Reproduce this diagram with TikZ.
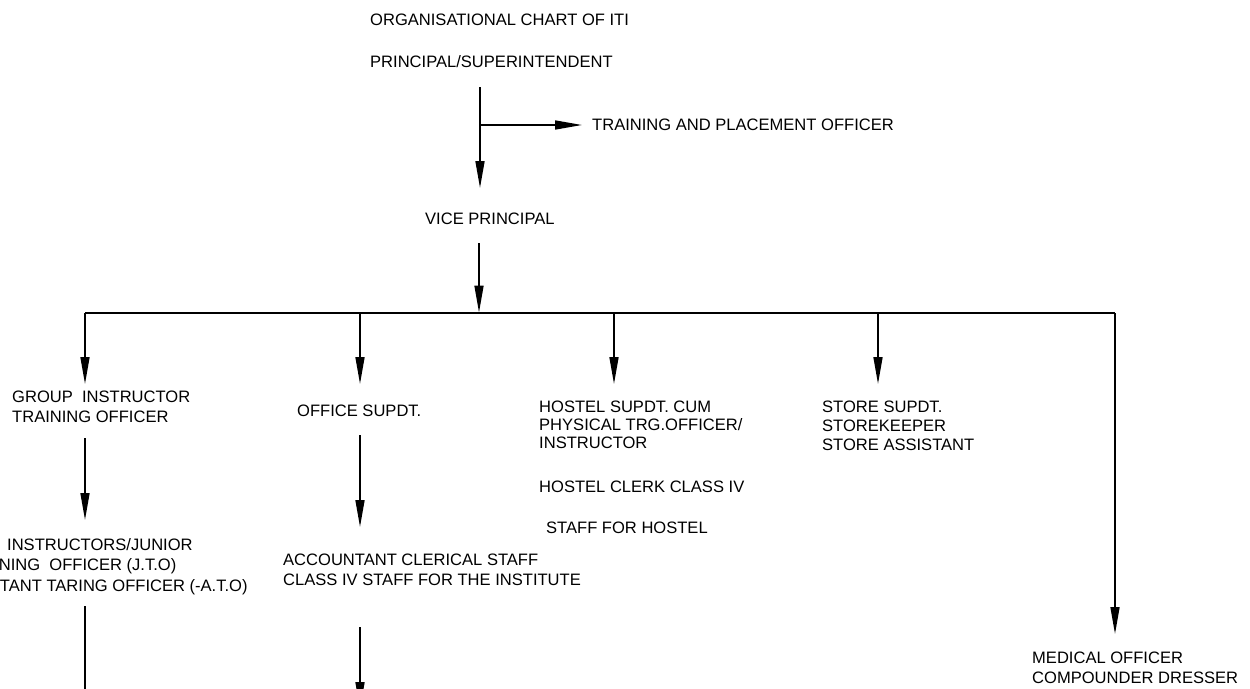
\documentclass[tikz,border=0pt]{standalone}
\usepackage{fontspec}
\setmainfont{Liberation Sans}
\usetikzlibrary{arrows.meta}
\begin{document}
\begin{tikzpicture}[x=1pt,y=-1pt,
  lbl/.style={inner sep=0pt, anchor=north west, align=left, font=\fontsize{16.55}{20}\selectfont},
  lbltight/.style={lbl, font=\fontsize{16.55}{18}\selectfont},
  conn/.style={line width=1.6pt, line join=miter},
  arr/.style={conn, -{Triangle[length=27pt,width=9pt]}}]
\useasboundingbox (0,0) rectangle (1250,688);
\clip (0,0) rectangle (1250,688);

% texts
\node[lbl] (title) at (370,14) {ORGANISATIONAL CHART OF ITI};
\node[lbl] (pr) at (370,55) {PRINCIPAL/SUPERINTENDENT};
\node[lbl] (tpo) at (592,119) {TRAINING AND PLACEMENT OFFICER};
\node[lbl] (vp) at (425,213) {VICE PRINCIPAL};
\node[lbl] (gi) at (12,391) {GROUP\ \ INSTRUCTOR\\TRAINING OFFICER};
\node[lbl,font=\fontsize{16.55}{20.5}\selectfont] (jto) at (-49,538) {\hspace*{56pt}INSTRUCTORS/JUNIOR\\\hspace*{10pt}TRAINING\ \ OFFICER (J.T.O)\\ASSISTANT TARING OFFICER (-A.T.O)};
\node[lbl] (os) at (297,405) {OFFICE SUPDT.};
\node[lbl] (acc) at (283,554) {ACCOUNTANT CLERICAL STAFF\\CLASS IV STAFF FOR THE INSTITUTE};
\node[lbltight] (hs) at (539,401) {HOSTEL SUPDT. CUM\\PHYSICAL TRG.OFFICER/\\INSTRUCTOR};
\node[lbl] (hc) at (539,481) {HOSTEL CLERK CLASS IV};
\node[lbl] (sh) at (546,522) {STAFF FOR HOSTEL};
\node[lbltight,font=\fontsize{16.55}{19}\selectfont] (st) at (822,401) {STORE SUPDT.\\STOREKEEPER\\STORE ASSISTANT};
\node[lbl] (med) at (1032,652) {MEDICAL OFFICER\\COMPOUNDER DRESSER};

% connector points
\coordinate (prout) at (480,87);
\coordinate (vpin) at (480,188);
\coordinate (br) at (480,125);
\coordinate (vpout) at (479,243);
\coordinate (busin) at (479,312.5);
\coordinate (busL) at (85,313);
\coordinate (busA) at (360,313);
\coordinate (busB) at (614,313);
\coordinate (busC) at (878,313);
\coordinate (busR) at (1115,313);
\coordinate (giin) at (85,384);
\coordinate (osin) at (360,384);
\coordinate (hsin) at (614,384);
\coordinate (stin) at (878,384);
\coordinate (medin) at (1115,634);
\coordinate (giout) at (85,438);
\coordinate (jtoin) at (85,520);
\coordinate (jtoout) at (85,606);
\coordinate (jtonext) at (85,700);
\coordinate (osout) at (360,435);
\coordinate (accin) at (360,527);
\coordinate (accout) at (360,627);
\coordinate (accnext) at (360,709);

% connectors
\draw[arr] (prout) -- (vpin);
\draw[arr] (br) -- ([xshift=-10pt]tpo.west |- br);
\draw[arr] (vpout) -- (busin);
\draw[conn] (busL) -- (busR);
\draw[arr] (busL) -- (giin);
\draw[arr] (busA) -- (osin);
\draw[arr] (busB) -- (hsin);
\draw[arr] (busC) -- (stin);
\draw[arr] (busR) -- (medin);
\draw[arr] (giout) -- (jtoin);
\draw[conn] (jtoout) -- (jtonext);
\draw[arr] (osout) -- (accin);
\draw[arr] (accout) -- (accnext);
\end{tikzpicture}
\end{document}
